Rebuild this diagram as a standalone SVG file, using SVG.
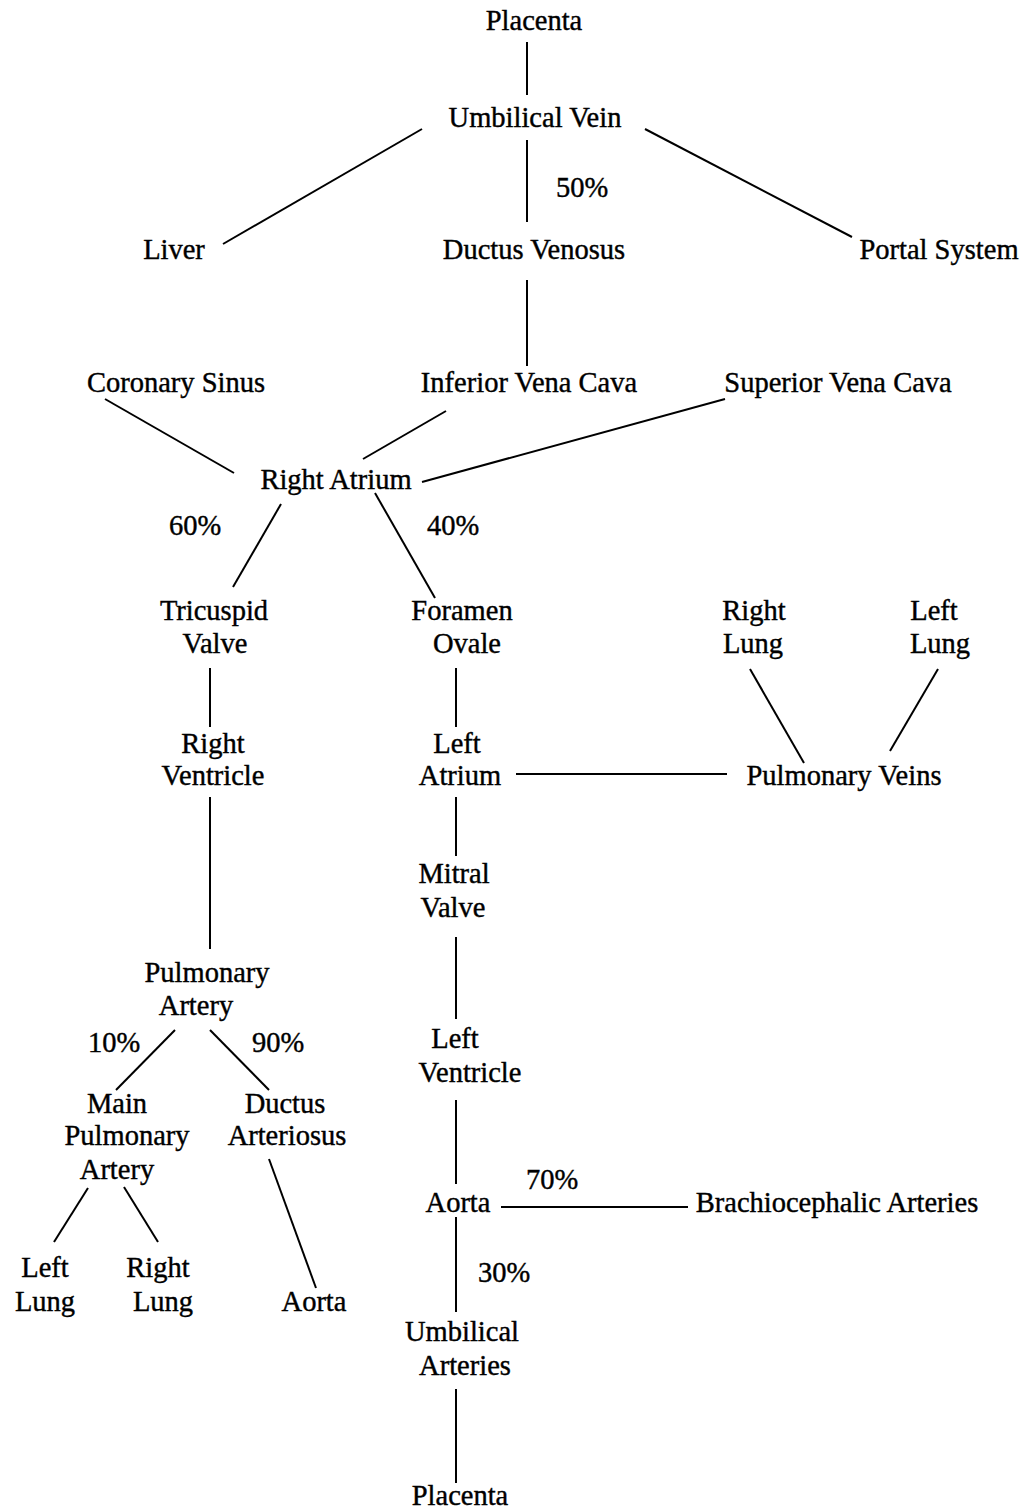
<svg xmlns="http://www.w3.org/2000/svg" width="1020" height="1511" viewBox="0 0 1020 1511">
<style>
text{font-family:"Liberation Serif","Times New Roman",serif;font-size:28.5px;fill:#000;stroke:#000;stroke-width:0.4;text-anchor:middle}
.c line{stroke:#000;stroke-width:2;stroke-linecap:butt}
</style>
<rect width="1020" height="1511" fill="#fff"/>
<g class="c" id="connectors">
<line x1="527" y1="42" x2="527" y2="95"/>
<line x1="422" y1="129" x2="223" y2="244"/>
<line x1="645" y1="129" x2="852" y2="237"/>
<line x1="527" y1="140" x2="527" y2="222"/>
<line x1="527" y1="280" x2="527" y2="366"/>
<line x1="105" y1="399" x2="234" y2="473"/>
<line x1="446" y1="411" x2="363" y2="459"/>
<line x1="725" y1="399" x2="422" y2="482"/>
<line x1="281" y1="504" x2="233" y2="587"/>
<line x1="375" y1="493" x2="435" y2="598"/>
<line x1="210" y1="668" x2="210" y2="727"/>
<line x1="456" y1="668" x2="456" y2="727"/>
<line x1="750" y1="669" x2="804" y2="763"/>
<line x1="938" y1="669" x2="890" y2="751"/>
<line x1="516" y1="774" x2="727" y2="774"/>
<line x1="456" y1="797" x2="456" y2="856"/>
<line x1="210" y1="797" x2="210" y2="949"/>
<line x1="456" y1="937" x2="456" y2="1019"/>
<line x1="175" y1="1030" x2="116" y2="1090"/>
<line x1="210" y1="1030" x2="269" y2="1090"/>
<line x1="456" y1="1100" x2="456" y2="1184"/>
<line x1="501" y1="1207" x2="688" y2="1207"/>
<line x1="456" y1="1217" x2="456" y2="1312"/>
<line x1="88" y1="1188" x2="54" y2="1242"/>
<line x1="124" y1="1187" x2="158" y2="1242"/>
<line x1="269" y1="1159" x2="316" y2="1288"/>
<line x1="456" y1="1389" x2="456" y2="1483"/>
</g>
<g id="placenta-top"><text x="534" y="30">Placenta</text></g>
<g id="umbilical-vein"><text x="535" y="127">Umbilical Vein</text></g>
<g id="pct50"><text x="582" y="197">50%</text></g>
<g id="liver"><text x="174" y="259">Liver</text></g>
<g id="ductus-venosus"><text x="534" y="259">Ductus Venosus</text></g>
<g id="portal-system"><text x="939" y="259">Portal System</text></g>
<g id="coronary-sinus"><text x="176" y="392">Coronary Sinus</text></g>
<g id="ivc"><text x="529" y="392">Inferior Vena Cava</text></g>
<g id="svc"><text x="838" y="392">Superior Vena Cava</text></g>
<g id="right-atrium"><text x="336" y="489">Right Atrium</text></g>
<g id="pct60"><text x="195" y="535">60%</text></g>
<g id="pct40"><text x="453" y="535">40%</text></g>
<g id="tricuspid-valve"><text x="214" y="620">Tricuspid</text><text x="215" y="653">Valve</text></g>
<g id="foramen-ovale"><text x="462" y="620">Foramen</text><text x="467" y="653">Ovale</text></g>
<g id="right-lung-top"><text x="754" y="620">Right</text><text x="753" y="653">Lung</text></g>
<g id="left-lung-top"><text x="934" y="620">Left</text><text x="940" y="653">Lung</text></g>
<g id="right-ventricle"><text x="213" y="753">Right</text><text x="213" y="785">Ventricle</text></g>
<g id="left-atrium"><text x="457" y="753">Left</text><text x="460" y="785">Atrium</text></g>
<g id="pulmonary-veins"><text x="844" y="785">Pulmonary Veins</text></g>
<g id="mitral-valve"><text x="454" y="883">Mitral</text><text x="453" y="917">Valve</text></g>
<g id="pulmonary-artery"><text x="207" y="982">Pulmonary</text><text x="196" y="1015">Artery</text></g>
<g id="pct10"><text x="114" y="1052">10%</text></g>
<g id="pct90"><text x="278" y="1052">90%</text></g>
<g id="left-ventricle"><text x="455" y="1048">Left</text><text x="470" y="1082">Ventricle</text></g>
<g id="main-pulmonary-artery"><text x="117" y="1113">Main</text><text x="127" y="1145">Pulmonary</text><text x="117" y="1179">Artery</text></g>
<g id="ductus-arteriosus"><text x="285" y="1113">Ductus</text><text x="287" y="1145">Arteriosus</text></g>
<g id="aorta"><text x="458" y="1212">Aorta</text></g>
<g id="pct70"><text x="552" y="1189">70%</text></g>
<g id="brachiocephalic"><text x="837" y="1212">Brachiocephalic Arteries</text></g>
<g id="left-lung-bottom"><text x="45" y="1277">Left</text><text x="45" y="1311">Lung</text></g>
<g id="right-lung-bottom"><text x="158" y="1277">Right</text><text x="163" y="1311">Lung</text></g>
<g id="aorta-bottom"><text x="314" y="1311">Aorta</text></g>
<g id="pct30"><text x="504" y="1282">30%</text></g>
<g id="umbilical-arteries"><text x="462" y="1341">Umbilical</text><text x="465" y="1375">Arteries</text></g>
<g id="placenta-bottom"><text x="460" y="1505">Placenta</text></g>
</svg>
